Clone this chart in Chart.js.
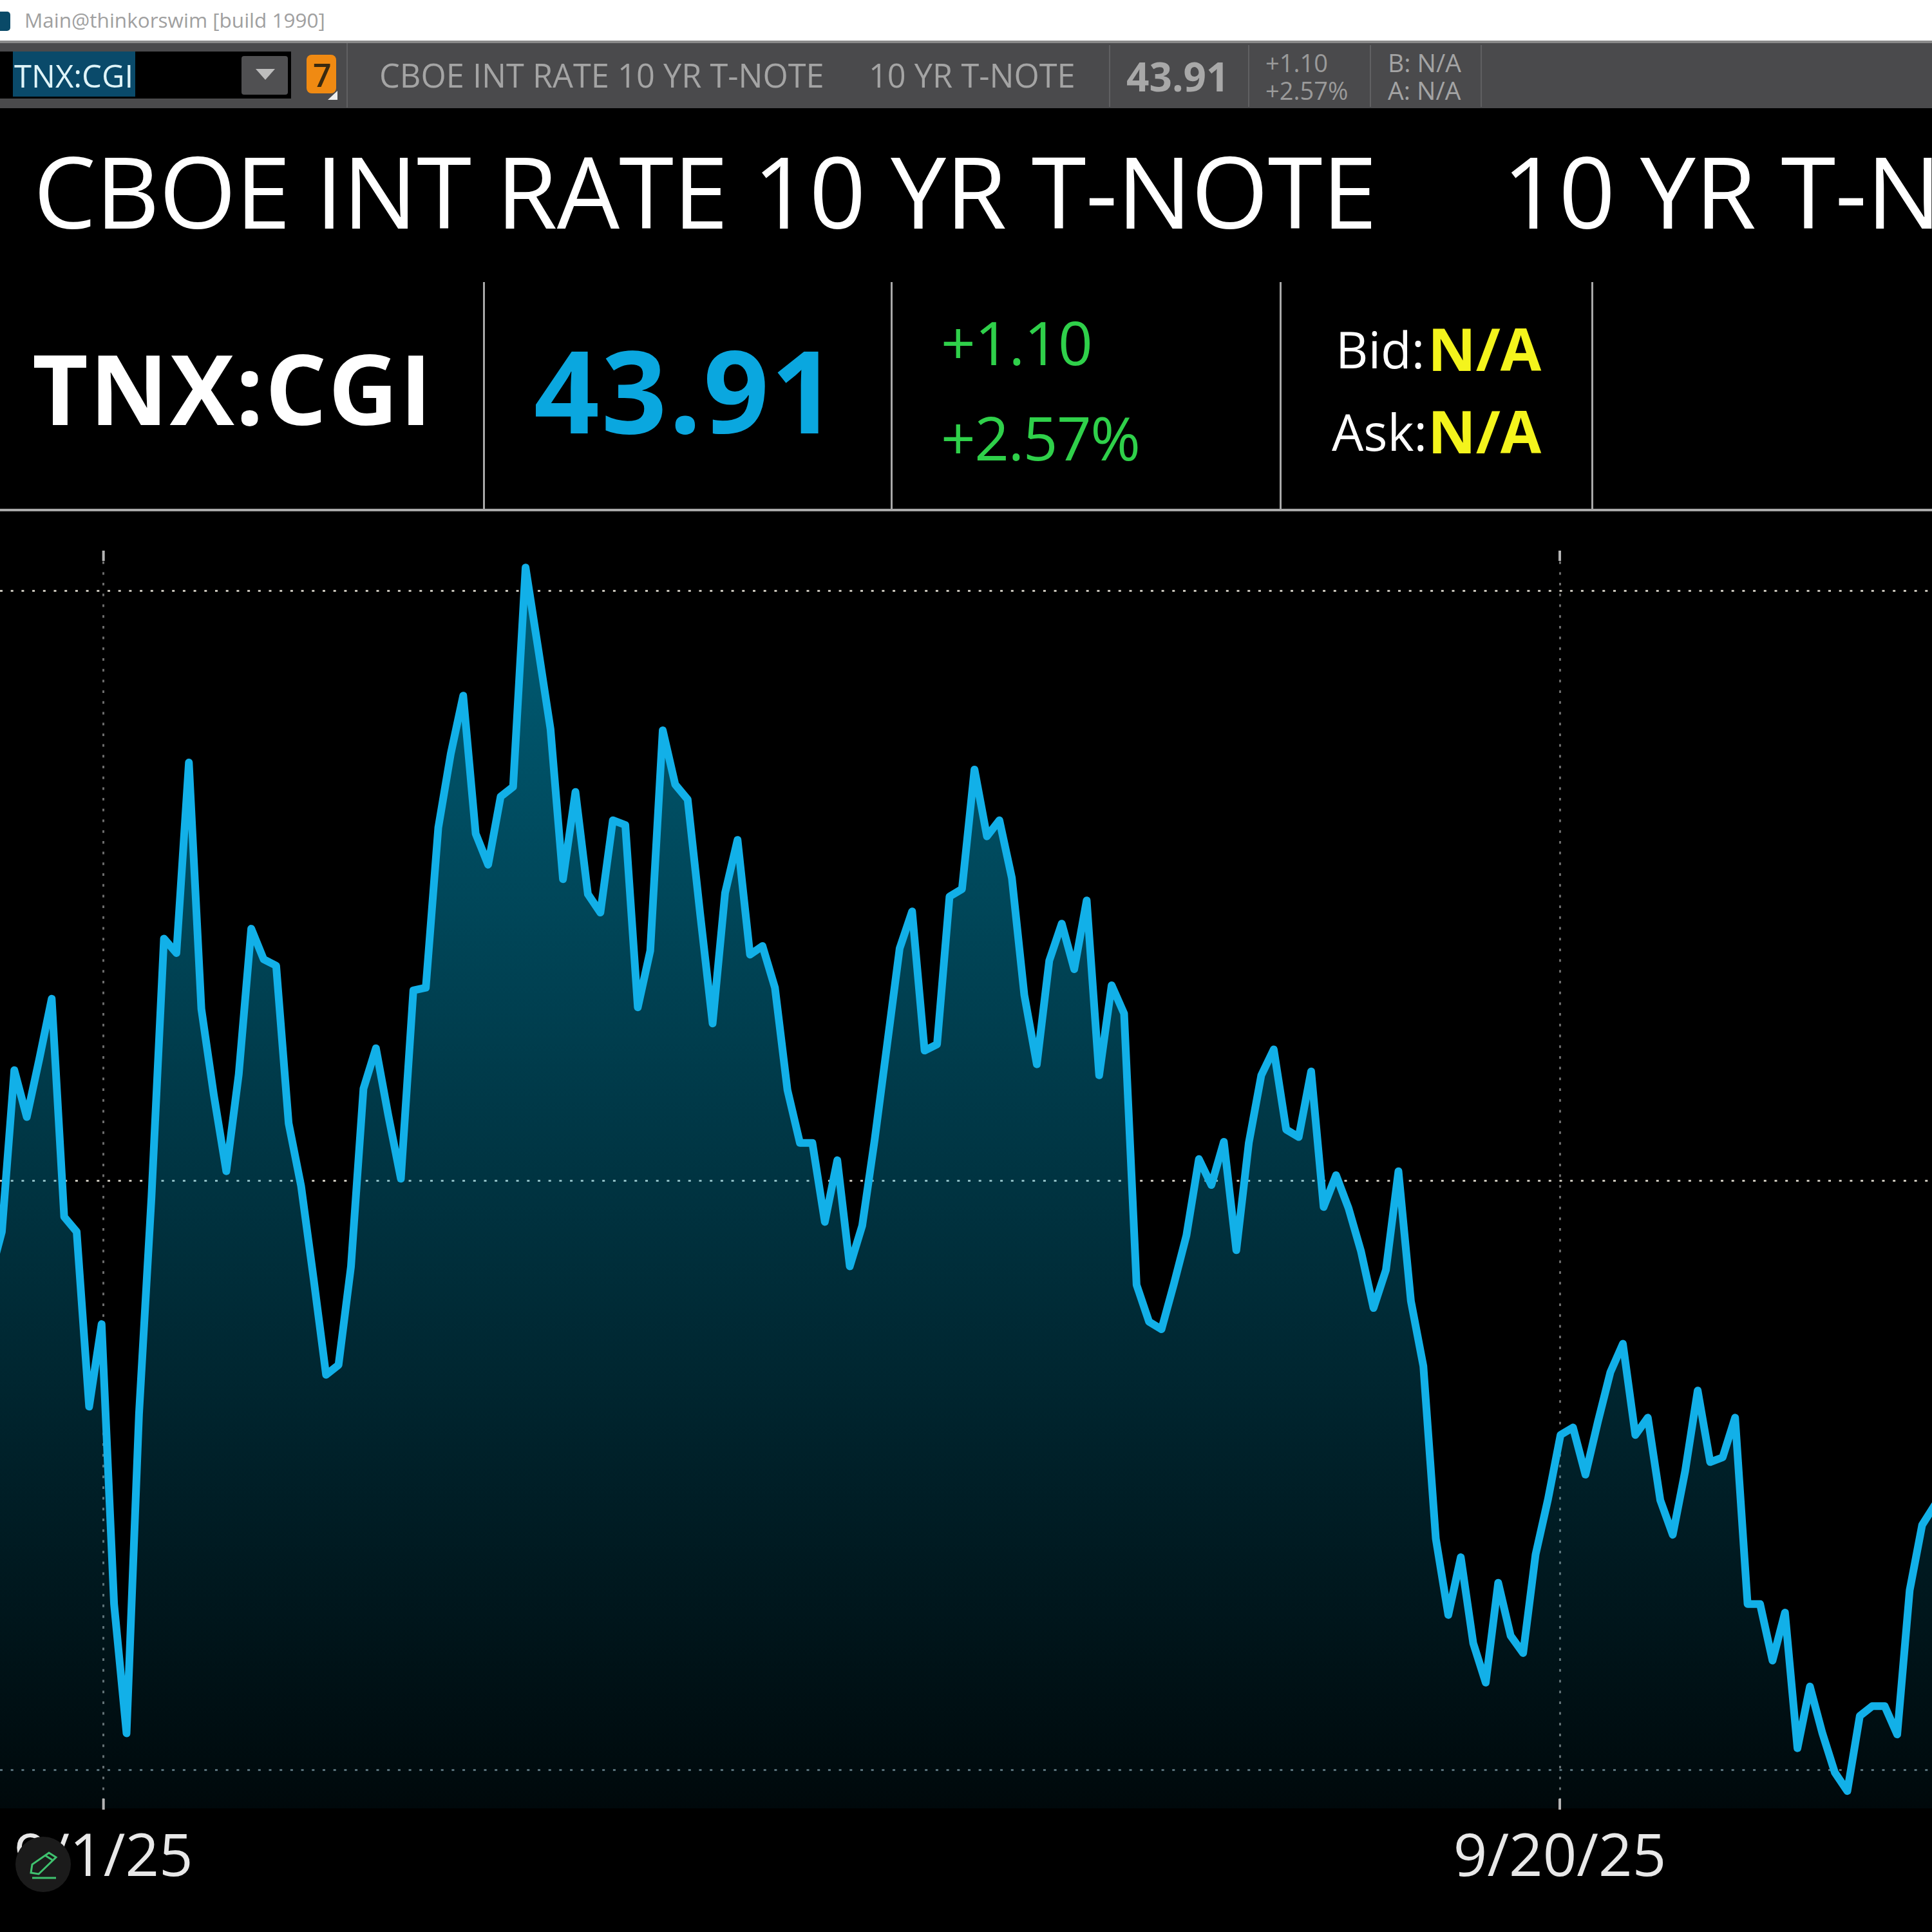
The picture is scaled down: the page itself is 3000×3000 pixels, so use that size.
<!DOCTYPE html>
<html>
<head>
<meta charset="utf-8">
<title>TNX:CGI</title>
<script src="https://cdn.jsdelivr.net/npm/chart.js@4/dist/chart.umd.min.js"></script>
<style>
  html, body { margin: 0; padding: 0; background: #000; }
  #page { position: relative; width: 3000px; height: 3000px; overflow: hidden; background: #000; font-family: "Open Sans", sans-serif; }
  #page div, #page span { position: absolute; }
  .txt { white-space: pre; line-height: 1; }
  #grafica { position: absolute; left: 0; top: 855px; }
  #lapiz { position: absolute; left: 0; top: 2830px; }
</style>
</head>
<body>
<div id="page">
  <div style="left:0;top:0;width:3000px;height:63px;background:#fff"></div>
  <div style="left:0;top:18px;width:16px;height:30px;background:#0a4a68;border-radius:0 5px 5px 0"></div>
  <div style="left:0;top:63px;width:3000px;height:105px;background:#4a4a4c;border-top:4px solid #8a8a8a;box-sizing:border-box"></div>
  <div style="left:0;top:80px;width:452px;height:73px;background:#000"></div>
  <div style="left:20px;top:80px;width:190px;height:70px;background:#0a4a6a"></div>
  <div style="left:375px;top:87px;width:72px;height:60px;background:#505052;border-radius:4px"></div>
  <div style="left:397px;top:107px;width:0;height:0;border-left:15px solid transparent;border-right:15px solid transparent;border-top:17px solid #bdbdbd"></div>
  <div style="left:476px;top:85px;width:46px;height:60px;background:#f08a12;border-radius:8px"></div>
  <div style="left:509px;top:141px;width:0;height:0;border-left:15px solid transparent;border-bottom:14px solid #eee"></div>
  <div style="left:538px;top:67px;width:2px;height:100px;background:#606062"></div>
  <div style="left:1722px;top:70px;width:2px;height:96px;background:#606062"></div>
  <div style="left:1938px;top:70px;width:2px;height:96px;background:#606062"></div>
  <div style="left:2127px;top:70px;width:2px;height:96px;background:#606062"></div>
  <div style="left:2299px;top:70px;width:2px;height:96px;background:#606062"></div>
  <div style="left:750px;top:438px;width:3px;height:354px;background:#a8a8a8"></div>
  <div style="left:1383px;top:438px;width:3px;height:354px;background:#a8a8a8"></div>
  <div style="left:1987px;top:438px;width:3px;height:354px;background:#a8a8a8"></div>
  <div style="left:2471px;top:438px;width:3px;height:354px;background:#a8a8a8"></div>
  <div style="left:0;top:790px;width:3000px;height:4px;background:#a8a8a8"></div>
  <canvas id="grafica" width="3000" height="2145"></canvas>
  <svg id="lapiz" width="140" height="130" viewBox="0 0 140 130">
    <circle cx="67" cy="65" r="43" fill="#1b1b1b"/>
    <path d="M48 78 L50 65 L76 47 L87 54 L60 80 Z M70 51 L81 58" fill="none" stroke="#3fc26f" stroke-width="3"/>
    <path d="M50 86 L87 86" stroke="#3fc26f" stroke-width="3"/>
  </svg>
</div>

<script>
/* =====================================
   DATOS
===================================== */

const barras = [
  41.250,41.370,41.781,41.662,41.809,41.963,41.408,41.370,40.925,41.135,
  40.423,40.094,40.906,41.458,42.116,42.079,42.564,41.937,41.718,41.524,
  41.771,42.141,42.063,42.047,41.646,41.486,41.251,41.006,41.031,41.282,
  41.734,41.837,41.665,41.505,41.984,41.991,42.398,42.586,42.734,42.383,
  42.304,42.477,42.502,43.060,42.856,42.649,42.267,42.489,42.229,42.182,
  42.417,42.405,41.941,42.085,42.646,42.508,42.470,42.179,41.900,42.232,
  42.367,42.075,42.097,41.991,41.731,41.596,41.596,41.395,41.552,41.282,
  41.386,41.605,41.847,42.091,42.185,41.831,41.847,42.223,42.242,42.546,
  42.376,42.417,42.270,41.972,41.796,42.060,42.154,42.038,42.213,41.768,
  41.997,41.925,41.235,41.141,41.122,41.238,41.361,41.555,41.489,41.599,
  41.323,41.596,41.768,41.834,41.630,41.611,41.778,41.433,41.514,41.430,
  41.320,41.176,41.273,41.524,41.194,41.028,40.589,40.395,40.542,40.323,
  40.223,40.477,40.342,40.298,40.549,40.690,40.853,40.872,40.752,40.887,
  41.013,41.085,40.853,40.897,40.687,40.599,40.762,40.966,40.784,40.796,
  40.897,40.423,40.423,40.279,40.401,40.056,40.213,40.094,39.994,39.947,
  40.138,40.163,40.163,40.091,40.458,40.624,40.674
];

const fechas = ["9/1/25","9/20/25"];
const posicionFechas = [9.15,125.94];
const nivelesPrecio = [43,41.5,40];

const tituloLargo = "CBOE INT RATE 10 YR T-NOTE";
const tituloCorto = "10 YR T-NOTE";
const simbolo = "TNX:CGI";
const ultimo = "43.91";
const cambio = "+1.10";
const cambioPct = "+2.57%";
const sinDato = "N/A";

/* =====================================
   TEXTOS DE LA CABECERA
===================================== */

function texto(t,x,base,tam,peso,color,espacio){

    const s = document.createElement("span");

    s.className = "txt";
    s.textContent = t;
    s.style.left = x + "px";
    s.style.top = (base - 0.888*tam) + "px";
    s.style.fontSize = tam + "px";
    s.style.fontWeight = peso;
    s.style.color = color;

    if(espacio) s.style.letterSpacing = espacio + "px";

    document.getElementById("page").appendChild(s);

}

texto("Main@thinkorswim [build 1990]",38,43,31.5,400,"#a0a0a0");
texto(simbolo,22,137,49,400,"#dff4f8");
texto("7",486,135,50,600,"#3a2a10");
texto(tituloLargo,589,137,50.5,400,"#a4a4a4");
texto(tituloCorto,1349,137,50.5,400,"#a4a4a4");
texto(ultimo,1749,142,62,700,"#a8a8a8");
texto(cambio,1965,112,38,400,"#9a9a9a");
texto(cambioPct,1965,155,38,400,"#9a9a9a");
texto("B: "+sinDato,2155,112,39,400,"#a4a4a4");
texto("A: "+sinDato,2155,155,39,400,"#a4a4a4");

texto(tituloLargo,52,355,154,400,"#ffffff",-0.8);
texto(tituloCorto,2333,355,154,400,"#ffffff",-0.8);

texto(simbolo,50,660,150,700,"#ffffff",2.5);
texto(ultimo,829,673,178,700,"#0aa7df",3);
texto(cambio,1461,567,94,400,"#2fd04a",-1);
texto(cambioPct,1461,715,94,400,"#2fd04a",-1.5);
texto("Bid:",2074,572,78,400,"#ffffff");
texto(sinDato,2217,577,92,700,"#f4f41c");
texto("Ask:",2068,700,78,400,"#ffffff");
texto(sinDato,2217,705,92,700,"#f4f41c");

/* =====================================
   GRAFICA
===================================== */

function rellenoDegradado(ctx){

    const area = ctx.chart.chartArea;

    if(!area) return "transparent";

    const g = ctx.chart.ctx.createLinearGradient(0,area.top + 25,0,area.bottom);

    g.addColorStop(0,"rgba(0,170,215,0.55)");
    g.addColorStop(1,"rgba(0,170,215,0.05)");

    return g;

}

/* marcas cortas arriba y abajo de cada fecha */
const marcasFecha = {

    id:"marcasFecha",

    afterDatasetsDraw(chart){

        const c = chart.ctx;
        const area = chart.chartArea;

        c.save();
        c.strokeStyle = "#b5b5b5";
        c.lineWidth = 4;

        posicionFechas.forEach(p=>{

            const x = chart.scales.x.getPixelForValue(p);

            c.beginPath();
            c.moveTo(x,area.top);
            c.lineTo(x,area.top + 16);
            c.moveTo(x,area.bottom - 15);
            c.lineTo(x,area.bottom + 2);
            c.stroke();

        });

        c.restore();

    }

};

new Chart(

    document.getElementById("grafica"),

    {

        type:"line",

        data:{

            datasets:[{

                data:barras.map((v,i)=>({x:i,y:v})),

                borderColor:"#12b0e8",
                borderWidth:12,
                borderJoinStyle:"round",
                borderCapStyle:"round",
                pointRadius:0,
                tension:0,
                fill:"start",
                backgroundColor:rellenoDegradado

            }]

        },

        options:{

            responsive:false,
            animation:false,
            devicePixelRatio:1,
            layout:{ padding:0 },

            plugins:{
                legend:{ display:false },
                tooltip:{ enabled:false }
            },

            scales:{

                x:{

                    type:"linear",
                    min:0.852,
                    max:155.79,

                    afterBuildTicks(eje){
                        eje.ticks = posicionFechas.map(p=>({value:p}));
                    },

                    afterFit(eje){
                        eje.height = 192;
                        eje.paddingLeft = 0;
                        eje.paddingRight = 0;
                    },

                    ticks:{
                        autoSkip:false,
                        maxRotation:0,
                        padding:24,
                        color:"#e8e8e8",
                        font:{ family:"Open Sans", size:92, weight:"400" },
                        callback(valor){
                            return fechas[posicionFechas.indexOf(valor)];
                        }
                    },

                    grid:{
                        color:"#6c6c6c",
                        lineWidth:3,
                        drawTicks:false
                    },

                    border:{ display:false, dash:[4,12.7] }

                },

                y:{

                    min:39.903,
                    max:43.103,

                    afterBuildTicks(eje){
                        eje.ticks = nivelesPrecio.map(p=>({value:p}));
                    },

                    afterFit(eje){
                        eje.width = 0;
                    },

                    ticks:{ display:false },

                    grid:{
                        color:ctx=> ctx.tick && ctx.tick.value === 40 ? "#5e6d74" : "#c8c4ba",
                        lineWidth:3,
                        drawTicks:false
                    },

                    border:{ display:false, dash:[4,12.7] }

                }

            }

        },

        plugins:[marcasFecha]

    }

);
</script>
</body>
</html>
